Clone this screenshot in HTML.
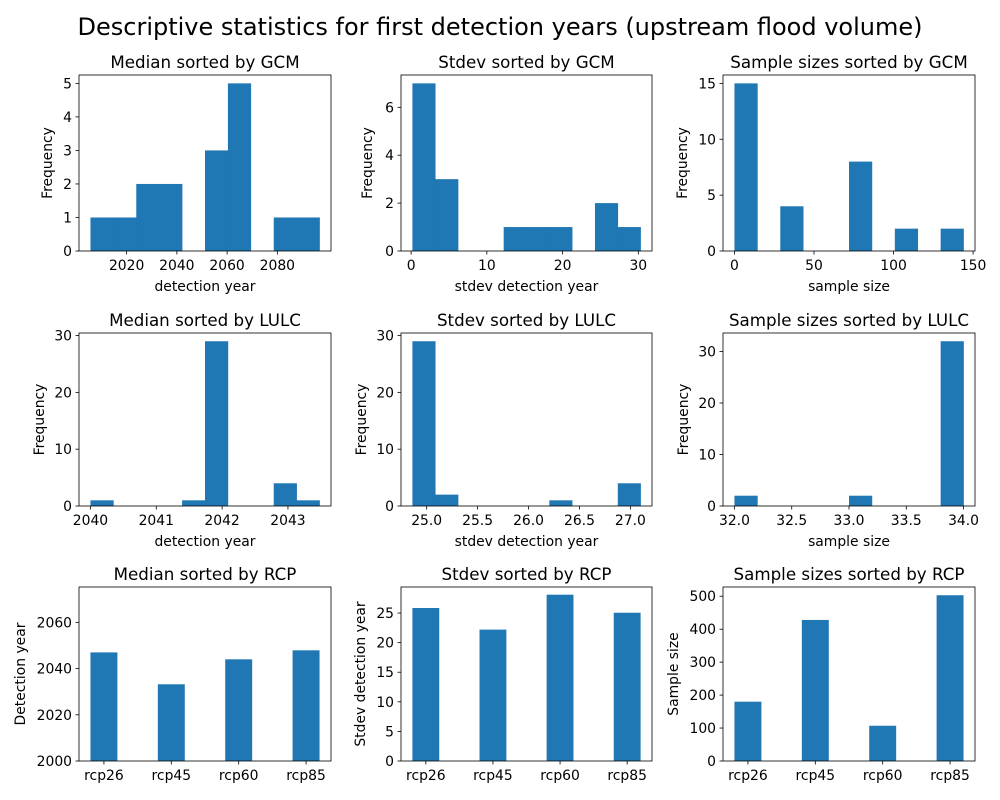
<!DOCTYPE html>
<html><head><meta charset="utf-8">
<style>
html,body{margin:0;padding:0;background:#fff;}
svg{display:block;font-family:"DejaVu Sans","Liberation Sans",sans-serif;}
</style></head>
<body>
<svg id="fig" width="1000" height="800" viewBox="0 0 1000 800">
<text x="500" y="35" text-anchor="middle" font-size="24" fill="#000">Descriptive statistics for first detection years (upstream flood volume)</text>
</svg>
<script>
// ---- data ----
const gcmMedianRange = [2005.6, 2096.8];
const gcmMedianCounts = [1, 1, 2, 2, 0, 3, 5, 0, 1, 1];
const gcmStdevRange = [0.17, 30.3];
const gcmStdevCounts = [7, 3, 0, 0, 1, 1, 1, 0, 2, 1];
const gcmSampleRange = [0, 144];
const gcmSampleCounts = [15, 0, 4, 0, 0, 8, 0, 2, 0, 2];
const lulcMedianRange = [2040.0, 2043.48];
const lulcMedianCounts = [1, 0, 0, 0, 1, 29, 0, 0, 4, 1];
const lulcStdevRange = [24.86, 27.10];
const lulcStdevCounts = [29, 2, 0, 0, 0, 0, 1, 0, 0, 4];
const lulcSampleRange = [32, 34];
const lulcSampleCounts = [2, 0, 0, 0, 0, 2, 0, 0, 0, 32];
const rcpCategories = ["rcp26", "rcp45", "rcp60", "rcp85"];
const rcpMedian = [2047, 2033.2, 2044, 2047.9];
const rcpStdev = [25.85, 22.2, 28.1, 25.05];
const rcpSample = [180, 428, 107, 503];
const gcmMedianTicks = [2020, 2040, 2060, 2080];
const gcmStdevTicks = [0, 10, 20, 30];
const gcmSampleTicks = [0, 50, 100, 150];
const lulcMedianTicks = [2040, 2041, 2042, 2043];
const lulcStdevTicks = [25.0, 25.5, 26.0, 26.5, 27.0];
const lulcSampleTicks = [32.0, 32.5, 33.0, 33.5, 34.0];
const rcpMedianTicks = [2000, 2020, 2040, 2060];
const rcpStdevTicks = [0, 5, 10, 15, 20, 25];
const rcpSampleTicks = [0, 100, 200, 300, 400, 500];

const NS = "http://www.w3.org/2000/svg";
const svg = document.getElementById('fig');
const BLUE = "#1f77b4";
const cols = [[79, 331], [401, 652], [723, 975]];
const rows = [[75, 251], [333, 506], [587, 761]];

function mk(tag, attrs, parent) {
  const e = document.createElementNS(NS, tag);
  for (const k in attrs) e.setAttribute(k, attrs[k]);
  (parent || svg).appendChild(e);
  return e;
}
function txt(x, y, s, size, anchor, parent, rot) {
  const t = mk('text', {x: x, y: y, 'font-size': size, 'text-anchor': anchor || 'middle', fill: '#000'}, parent);
  if (rot) t.setAttribute('transform', 'rotate(-90 ' + x + ' ' + y + ')');
  t.textContent = s;
  return t;
}
function fmt(v, dec) { return dec ? v.toFixed(dec) : String(v); }

function panel(r, c, slug, title, xlabel, ylabel, ylabelX) {
  const [L, R] = cols[c], [T, B] = rows[r];
  const g = mk('g', {});
  
  
  const tt = txt((L + R) / 2, T - 7, title, 16.7, 'middle', g);
  
  
  if (xlabel) {
    const xl = txt((L + R) / 2, B + 40, xlabel, 13.9, 'middle', g);
    
    
  }
  const yl = txt(ylabelX, (T + B) / 2, ylabel, 13.9, 'middle', g, true);
  
  
  return {g, L, R, T, B};
}
function yAxis(p, ymax, ticks, slug) {
  const sy = v => p.B - (v / ymax) * (p.B - p.T);
  ticks.forEach(v => {
    const y = sy(v);
    mk('line', {x1: p.L - 3.5, x2: p.L, y1: y, y2: y, stroke: '#000', 'stroke-width': 0.8}, p.g);
    const t = txt(p.L - 7, y + 5, String(v), 13.9, 'end', p.g);
    
    
  });
  return sy;
}
function frame(p, slug) {
  const f = mk('rect', {x: p.L, y: p.T, width: p.R - p.L, height: p.B - p.T, fill: 'none', stroke: '#000', 'stroke-width': 0.8}, p.g);
  
  
}
function hist(r, c, slug, title, xlabel, range, counts, xticks, yticks, dec, ylabelX) {
  const p = panel(r, c, slug, title, xlabel, 'Frequency', ylabelX);
  const [mn, mx] = range, span = mx - mn;
  const x0 = mn - 0.05 * span, x1 = mx + 0.05 * span;
  const sx = v => p.L + (v - x0) / (x1 - x0) * (p.R - p.L);
  const ymax = Math.max(...counts) * 1.05;
  const sy = yAxis(p, ymax, yticks, slug);
  const w = span / counts.length;
  counts.forEach((n, i) => {
    if (n <= 0) return;
    const a = sx(mn + i * w), b = sx(mn + (i + 1) * w);
    const rc = mk('rect', {x: a, y: sy(n), width: b - a + 0.3, height: p.B - sy(n), fill: BLUE}, p.g);
    
    
  });
  xticks.forEach(v => {
    const x = sx(v);
    mk('line', {x1: x, x2: x, y1: p.B, y2: p.B + 3.5, stroke: '#000', 'stroke-width': 0.8}, p.g);
    const t = txt(x, p.B + 19, fmt(v, dec), 13.9, 'middle', p.g);
    
    
  });
  frame(p, slug);
}
function bars(c, slug, title, ylabel, vals, ymin, ymax, yticks, ylabelX) {
  const p = panel(2, c, slug, title, null, ylabel, ylabelX);
  const n = rcpCategories.length;
  const x0 = -0.2 - 0.05 * (n - 1 + 0.4), x1 = n - 1 + 0.2 + 0.05 * (n - 1 + 0.4);
  const sx = v => p.L + (v - x0) / (x1 - x0) * (p.R - p.L);
  const sy = v => p.B - (v - ymin) / (ymax - ymin) * (p.B - p.T);
  yticks.forEach(v => {
    const y = sy(v);
    mk('line', {x1: p.L - 3.5, x2: p.L, y1: y, y2: y, stroke: '#000', 'stroke-width': 0.8}, p.g);
    const t = txt(p.L - 7, y + 5, String(v), 13.9, 'end', p.g);
    
    
  });
  vals.forEach((v, i) => {
    const a = sx(i - 0.2), b = sx(i + 0.2);
    const rc = mk('rect', {x: a, y: sy(v), width: b - a, height: p.B - sy(v), fill: BLUE}, p.g);
    
    
  });
  rcpCategories.forEach((s, i) => {
    const x = sx(i);
    mk('line', {x1: x, x2: x, y1: p.B, y2: p.B + 3.5, stroke: '#000', 'stroke-width': 0.8}, p.g);
    const t = txt(x, p.B + 19, s, 13.9, 'middle', p.g);
    
    
  });
  frame(p, slug);
}

hist(0, 0, 'median-gcm', 'Median sorted by GCM', 'detection year', gcmMedianRange, gcmMedianCounts, gcmMedianTicks, [0,1,2,3,4,5], 0, 52);
hist(0, 1, 'stdev-gcm', 'Stdev sorted by GCM', 'stdev detection year', gcmStdevRange, gcmStdevCounts, gcmStdevTicks, [0,2,4,6], 0, 372);
hist(0, 2, 'sample-gcm', 'Sample sizes sorted by GCM', 'sample size', gcmSampleRange, gcmSampleCounts, gcmSampleTicks, [0,5,10,15], 0, 687);
hist(1, 0, 'median-lulc', 'Median sorted by LULC', 'detection year', lulcMedianRange, lulcMedianCounts, lulcMedianTicks, [0,10,20,30], 0, 44);
hist(1, 1, 'stdev-lulc', 'Stdev sorted by LULC', 'stdev detection year', lulcStdevRange, lulcStdevCounts, lulcStdevTicks, [0,10,20,30], 1, 366);
hist(1, 2, 'sample-lulc', 'Sample sizes sorted by LULC', 'sample size', lulcSampleRange, lulcSampleCounts, lulcSampleTicks, [0,10,20,30], 1, 688);
bars(0, 'median-rcp', 'Median sorted by RCP', 'Detection year', rcpMedian, 2000, 2075.3, rcpMedianTicks, 25);
bars(1, 'stdev-rcp', 'Stdev sorted by RCP', 'Stdev detection year', rcpStdev, 0, 29.4, rcpStdevTicks, 365);
bars(2, 'sample-rcp', 'Sample sizes sorted by RCP', 'Sample size', rcpSample, 0, 528, rcpSampleTicks, 678);
</script>
</body></html>
